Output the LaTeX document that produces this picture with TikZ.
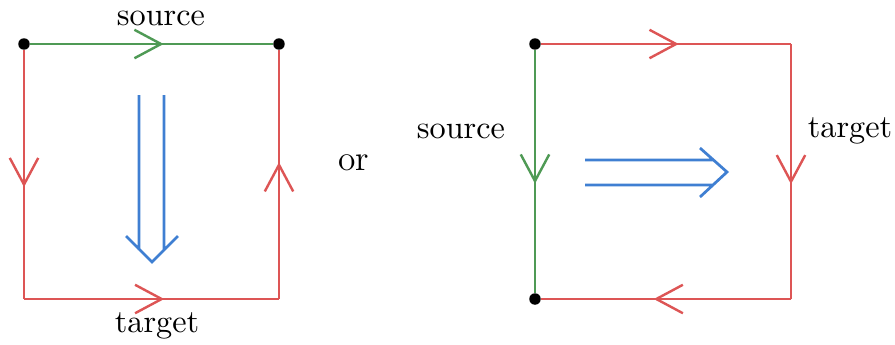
\documentclass[tikz,border=0pt]{standalone}
\usepackage{xcolor}
\usepackage{tikz}
\usetikzlibrary{arrows.meta,decorations.markings}
\definecolor{CellGreen}{HTML}{4F9A55}
\definecolor{CellRed}{HTML}{DD5555}
\definecolor{CellBlue}{HTML}{3F7FD2}
\tikzset{
  vertex/.style={circle, fill=black, inner sep=0pt, minimum size=1.25mm},
  midtip/.style={postaction={decorate}, decoration={markings,
    mark=at position #1 with {\arrow{Straight Barb[length=2.9mm, width=3.1mm]}}}},
  sourcepath/.style={color=CellGreen, line width=0.75pt, midtip=0.55},
  targetpath/.style={color=CellRed, line width=0.75pt, midtip=0.55},
  cell/.style={draw=CellBlue, line width=0.85pt},
  caption/.style={inner sep=0pt}
}

\begin{document}
\begin{tikzpicture}[x=0.0109cm, y=-0.0109cm]
  \useasboundingbox (0,0) rectangle (895,344);
  % left square
  \node[vertex] (ltl) at (24,44) {};
  \node[vertex] (ltr) at (279,44) {};
  \coordinate (lbl) at (24,299);
  \coordinate (lbr) at (279,299);
  \draw[sourcepath] (ltl) -- (ltr);
  \draw[targetpath] (ltl) -- (lbl);
  \draw[targetpath] (lbl) -- (lbr);
  \draw[targetpath] (lbr) -- (ltr);
  \node[caption] (lsrc) at (161,18) {source};
  \node[caption] (ltgt) at (157,326) {target};
  \draw[cell] (139,95) -- (139,250) (164,95) -- (164,250)
    (126,236) -- (152,262) -- (178,236);

  \node[caption, font=\fontsize{11}{13}\selectfont] (or) at (354,163) {or};

  % right square
  \node[vertex] (rtl) at (535,44) {};
  \node[vertex] (rbl) at (535,299) {};
  \coordinate (rtr) at (791,44);
  \coordinate (rbr) at (791,299);
  \draw[sourcepath] (rtl) -- (rbl);
  \draw[targetpath] (rtl) -- (rtr);
  \draw[targetpath] (rtr) -- (rbr);
  \draw[targetpath] (rbr) -- (rbl);
  \node[caption] (rsrc) at (461,131) {source};
  \node[caption] (rtgt) at (850,131) {target};
  \draw[cell] (585,160) -- (713,160) (585,185) -- (713,185)
    (700,148) -- (727,172) -- (700,197);
\end{tikzpicture}
\end{document}
